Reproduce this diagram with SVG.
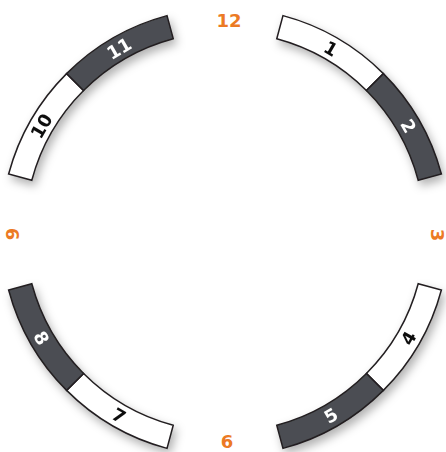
<svg xmlns="http://www.w3.org/2000/svg" width="446" height="452" viewBox="0 0 446 452">
  <style>
    .seg { stroke: #231f20; stroke-width: 1.5; stroke-linejoin: miter; }
    .light { fill: #ffffff; }
    .dark { fill: #4b4e52; }
    .num { font-family: "DejaVu Sans", "Liberation Sans", sans-serif; font-weight: bold; font-size: 18px; text-anchor: middle; dominant-baseline: central; }
    .nl { fill: #111111; }
    .nd { fill: #ffffff; }
    .hour { font-family: "DejaVu Sans", "Liberation Sans", sans-serif; font-weight: bold; font-size: 18px; fill: #ec7a24; text-anchor: middle; dominant-baseline: central; }
  </style>
  <defs>
    <filter id="sh" x="-30%" y="-30%" width="160%" height="160%">
      <feDropShadow dx="3" dy="5" stdDeviation="5" flood-color="#000" flood-opacity="0.3"/>
    </filter>
  </defs>
  <rect width="446" height="452" fill="#ffffff"/>

  <g id="quadrant-ne" filter="url(#sh)">
    <g id="seg-1">
      <path class="seg light" d="M282.98,15.63 A224,224 0 0 1 383.39,73.61 L366.42,90.58 A200,200 0 0 0 276.76,38.81 Z"/>
      <text class="num nl" x="331" y="48.4" transform="rotate(30 331 48.4)">1</text>
    </g>
    <g id="seg-2">
      <path class="seg dark" d="M383.39,73.61 A224,224 0 0 1 441.37,174.02 L418.19,180.24 A200,200 0 0 0 366.42,90.58 Z"/>
      <text class="num nd" x="408.6" y="126" transform="rotate(60 408.6 126)">2</text>
    </g>
  </g>

  <g id="quadrant-se" filter="url(#sh)">
    <g id="seg-4">
      <path class="seg light" d="M441.37,289.98 A224,224 0 0 1 383.39,390.39 L366.42,373.42 A200,200 0 0 0 418.19,283.76 Z"/>
      <text class="num nl" x="408.6" y="338" transform="rotate(-60 408.6 338)">4</text>
    </g>
    <g id="seg-5">
      <path class="seg dark" d="M383.39,390.39 A224,224 0 0 1 282.98,448.37 L276.76,425.19 A200,200 0 0 0 366.42,373.42 Z"/>
      <text class="num nd" x="331" y="415.6" transform="rotate(-30 331 415.6)">5</text>
    </g>
  </g>

  <g id="quadrant-sw" filter="url(#sh)">
    <g id="seg-7">
      <path class="seg light" d="M167.02,448.37 A224,224 0 0 1 66.61,390.39 L83.58,373.42 A200,200 0 0 0 173.24,425.19 Z"/>
      <text class="num nl" x="119" y="415.6" transform="rotate(30 119 415.6)">7</text>
    </g>
    <g id="seg-8">
      <path class="seg dark" d="M66.61,390.39 A224,224 0 0 1 8.63,289.98 L31.81,283.76 A200,200 0 0 0 83.58,373.42 Z"/>
      <text class="num nd" x="41.4" y="338" transform="rotate(60 41.4 338)">8</text>
    </g>
  </g>

  <g id="quadrant-nw" filter="url(#sh)">
    <g id="seg-10">
      <path class="seg light" d="M8.63,174.02 A224,224 0 0 1 66.61,73.61 L83.58,90.58 A200,200 0 0 0 31.81,180.24 Z"/>
      <text class="num nl" x="41.4" y="126" transform="rotate(-60 41.4 126)">10</text>
    </g>
    <g id="seg-11">
      <path class="seg dark" d="M66.61,73.61 A224,224 0 0 1 167.02,15.63 L173.24,38.81 A200,200 0 0 0 83.58,90.58 Z"/>
      <text class="num nd" x="119" y="48.4" transform="rotate(-30 119 48.4)">11</text>
    </g>
  </g>

  <g id="hour-labels">
    <text id="h12" class="hour" x="229" y="20">12</text>
    <text id="h3" class="hour" x="437" y="235" transform="rotate(90 437 235)">3</text>
    <text id="h6" class="hour" x="227" y="441">6</text>
    <text id="h9" class="hour" x="12" y="234" transform="rotate(-90 12 234)">9</text>
  </g>
</svg>
